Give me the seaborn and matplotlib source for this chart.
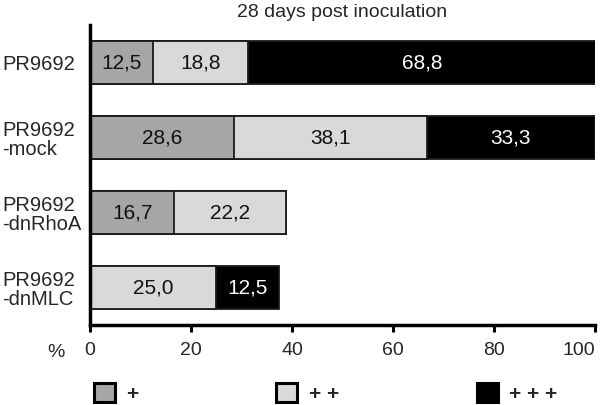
import pandas as pd
import matplotlib.pyplot as plt
import seaborn as sns
from matplotlib.patches import Patch

# ============================
# DATOS
# ============================
categorias = ["PR9692", "PR9692\n-mock", "PR9692\n-dnRhoA", "PR9692\n-dnMLC"]
grado1 = [12.5, 28.6, 16.7, 0.0]     # +
grado2 = [18.8, 38.1, 22.2, 25.0]    # + +
grado3 = [68.8, 33.3, 0.0, 12.5]     # + + +
etiquetas_x = [0, 20, 40, 60, 80, 100]
leyenda = ["+", "+ +", "+ + +"]
colores = ["#a6a6a6", "#d9d9d9", "#000000"]

df = pd.DataFrame({"cat": categorias, "g1": grado1, "g2": grado2, "g3": grado3})
df["c1"] = df["g1"]
df["c2"] = df["g1"] + df["g2"]
df["c3"] = df["c2"] + df["g3"]

sns.set_style("white")
plt.rcParams["font.family"] = ["Liberation Sans", "DejaVu Sans"]

fig = plt.figure(figsize=(6, 4.05), dpi=100)
ax = fig.add_axes([0.15, 0.1975, 0.8417, 0.7407])

# Barras apiladas: se dibuja el total y encima las sumas parciales
for col, color in zip(["c3", "c2", "c1"], colores[::-1]):
    sns.barplot(data=df, x=col, y="cat", color=color, width=0.58,
                edgecolor="#1a1a1a", linewidth=1.3, ax=ax, saturation=1)

# Etiquetas de los segmentos
for i in range(len(categorias)):
    inicio = 0
    for j, vals in enumerate([grado1, grado2, grado3]):
        v = vals[i]
        if v > 0:
            txt = f"{v:.1f}".replace(".", ",")
            ax.text(inicio + v / 2, i, txt, ha="center", va="center",
                    fontsize=15, color="white" if j == 2 else "#111111")
        inicio += v

ax.set_xlim(0, 100)
ax.set_ylim(3.5, -0.5)
ax.set_xticks(etiquetas_x)
ax.set_xticklabels([str(t) for t in etiquetas_x])
ax.get_xticklabels()[-1].set_horizontalalignment("right")
ax.get_xticklabels()[-1].set_x(101.5)
ax.set_xlabel("")
ax.set_ylabel("")
ax.set_title("28 days post inoculation", fontsize=14, pad=6)

sns.despine(ax=ax)
ax.spines["left"].set_linewidth(2.5)
ax.spines["bottom"].set_linewidth(2.5)
ax.spines["left"].set_color("black")
ax.spines["bottom"].set_color("black")
ax.tick_params(axis="x", direction="out", length=5, width=2.2, labelsize=14,
               pad=7, bottom=True, color="black")
ax.tick_params(axis="y", length=0, labelsize=14.5, pad=63)
for lab in ax.get_yticklabels():
    lab.set_horizontalalignment("left")
    lab.set_linespacing(1.05)

ax.text(-0.05, -0.092, "%", transform=ax.transAxes, fontsize=14,
        ha="right", va="center")

# Leyenda
handles = [Patch(facecolor=c, edgecolor="black", linewidth=2.2) for c in colores]
leg = fig.legend(handles, leyenda, loc="lower left", ncol=3, mode="expand",
                 bbox_to_anchor=(0.125, -0.043, 0.835, 0.08), frameon=False,
                 handlelength=1.0, handleheight=1.0, handletextpad=0.55,
                 prop={"weight": "bold", "size": 15})

fig.savefig("out.png", dpi=100)
plt.close()
